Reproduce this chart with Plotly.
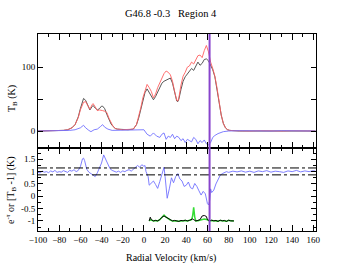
import plotly.graph_objects as go
from plotly.subplots import make_subplots

# ---------------- data ----------------
# Top panel: brightness temperature (K)
v_top = [-100, -95, -90, -85, -80, -76, -72, -68, -65, -62, -60, -58, -57, -55, -53, -51, -49, -48,
         -46, -44, -42, -40, -39, -37, -35, -33, -31, -29, -27, -25, -20, -15, -10, -7, -5, -3,
         -1, 1, 3, 5, 7, 9, 11, 13, 15, 17, 19, 21, 23, 25, 27, 29, 31, 32, 33, 35, 37, 39,
         41, 43, 45, 47, 49, 51, 53, 55, 57, 59, 61, 63, 65, 67, 69, 71, 73, 75, 77, 79, 81,
         85, 90, 100, 110, 120, 130, 140, 150, 162]
tb_black = [0, 0, 0, 0.5, 0.5, 1, 2, 5, 10, 22, 35, 47, 51, 48, 40, 33, 38, 40,
            36, 33, 35, 39, 39, 35, 26, 18, 11, 7, 4, 3, 2, 2, 3, 10, 20, 35,
            50, 60, 66, 60, 55, 49, 54, 62, 70, 75, 78, 80, 82, 83, 75, 60, 47, 46, 50, 65, 78, 85,
            90, 95, 98, 95, 102, 108, 103, 106, 112, 113, 110, 103, 96, 85, 68, 45, 25, 12, 5, 2, 1,
            0.5, 0, 0, 0, 0.5, 0, 0, 0, 0]
tb_red = [0, 0, 0.5, 0.5, 1, 1, 2, 5, 10, 21, 33, 43, 45, 46, 40, 34, 41, 43,
          38, 32, 33, 33, 32, 31, 29, 20, 12, 7, 4, 3, 2, 2, 3, 10, 21, 36,
          52, 63, 73, 68, 62, 52, 58, 68, 76, 82, 90, 94, 92, 88, 78, 62, 48, 47, 52, 72, 86, 92,
          100, 102, 108, 105, 112, 118, 119, 115, 126, 134, 124, 108, 98, 86, 68, 45, 25, 12, 5, 2, 1,
          0.5, 0, 0, 0.5, 0, 0, 0.5, 0, 0]

v_diff = [-100, -90, -80, -70, -65, -60, -57, -55, -52, -50, -47, -44, -41, -39, -37, -34, -30,
          -20, -10, -5, 0, 3, 6, 9, 12, 15, 17, 19, 21, 23, 25, 27, 29, 31, 33, 35, 37, 39,
          41, 43, 45, 47, 49, 51, 53, 55, 57, 59, 61, 63, 65, 67, 70, 75, 80, 90, 100, 110,
          120, 130, 140, 150, 162]
tb_diff = [0, 0.5, 0, 1, 2, 5, 9, 5, 1, -1, 2, 3, 7, 10, 6, 3, 1,
           1, 2, 1, 2, -5, -8, -3, -8, -10, -5, -3, -13, -8, -10, -5, -12, -8, -10, -15, -12, -18,
           -13, -15, -17, -10, -13, -20, -15, -18, -14, -20, -22, -18, -10, -7, -4, -1, 0, 0.5, 0, 0.5,
           0, 0.5, 0, 0.5, 0]

# Bottom panel: e^-tau
v_tau = [-100, -98, -96, -94, -92, -90, -88, -86, -84, -82, -80, -78, -76, -74, -72, -70, -68,
         -66, -64, -62, -60, -58, -57, -56, -54, -52, -50, -48, -46, -44, -42, -40, -38, -36,
         -34, -32, -30, -28, -26, -24, -22, -20, -18, -16, -14, -12, -10, -8, -6, -4, -2, 0, 1,
         2, 4, 5, 7, 9, 11, 13, 15, 17, 19, 20, 22, 24, 26, 28, 30, 32, 34, 36, 38, 40, 42,
         44, 46, 48, 50, 52, 54, 56, 58, 60, 61, 62, 63, 64, 66, 68, 70, 72, 74, 76, 78, 80,
         84, 88, 92, 96, 100, 104, 108, 112, 116, 120, 124, 128, 132, 136, 140, 144, 148, 152,
         156, 160, 162]
etau = [0.97, 0.95, 1.02, 0.98, 1.0, 0.96, 1.03, 0.99, 1.05, 0.97, 1.0, 0.98, 1.04, 1.0, 0.97, 1.05, 1.02,
        1.08, 1.0, 1.05, 1.2, 1.52, 1.55, 1.45, 1.1, 0.98, 0.92, 0.88, 0.8, 0.95, 1.15, 1.35, 1.68, 1.5,
        1.25, 1.12, 1.05, 1.0, 0.98, 1.02, 0.97, 1.03, 1.0, 1.05, 1.08, 1.02, 1.1, 1.15, 1.25, 1.18, 1.28, 1.22, 1.25,
        1.0, 0.8, 0.45, 0.55, 0.62, 0.48, 0.32, 0.6, 0.95, 1.18, 0.8, -0.08, 0.3, 0.75, 0.55, 0.8, 0.92, 0.7, 0.62, 0.4, 0.45, 0.58,
        0.35, 0.3, 0.52, 0.4, 0.22, 0.05, 0.2, 0.1, -0.3, -0.35, -0.2, 0.3, 0.15, 0.25, 0.5, 0.68, 0.85, 0.92, 0.95, 1.0, 0.97,
        1.02, 0.99, 1.03, 0.98, 1.02, 0.97, 1.03, 1.0, 1.04, 0.98, 1.02, 1.0, 0.97, 1.03, 1.0, 1.05, 0.99, 1.03,
        1.0, 1.04, 1.02]

v_low = [5, 6, 7, 9, 11, 13, 15, 17, 19, 21, 23, 25, 27, 29, 31, 33, 35, 37, 39, 41, 43, 45, 46,
         47, 48, 49, 51, 53, 55, 57, 59, 60, 62, 64, 66, 68, 70, 72, 74, 76, 78, 80, 82, 84, 85]
low_black = [-1.0, -0.85, -0.95, -1.0, -0.98, -1.0, -0.95, -0.85, -0.8, -0.85, -0.92, -0.97, -1.0, -0.98,
             -1.0, -1.02, -0.98, -1.0, -0.97, -1.0, -0.98, -0.95, -0.92, -0.95, -0.97, -1.0, -0.98, -0.95,
             -0.8, -0.78, -0.82, -0.95, -1.0, -0.97, -1.0, -0.98, -1.02, -0.97, -1.0, -0.98, -1.02, -0.97,
             -1.0, -0.98, -1.0]
low_green = [-1.0, -0.95, -0.97, -1.0, -0.98, -1.0, -0.95, -0.85, -0.76, -0.85, -0.93, -0.97, -1.0, -0.99,
             -1.0, -1.01, -0.99, -1.0, -0.98, -1.0, -0.98, -0.95, -0.8, -0.45, -0.85, -1.0, -0.99, -0.97,
             -0.93, -0.92, -0.94, -0.97, -1.0, -0.98, -1.0, -0.99, -1.01, -0.98, -1.0, -0.99, -1.01, -0.98,
             -1.0, -0.99, -1.0]

v_line = 62
tau_band = [1.15, 0.87]

# ---------------- figure ----------------
SERIF = "Liberation Serif"
fig = make_subplots(rows=2, cols=1, shared_xaxes=True, vertical_spacing=0,
                    row_heights=[0.58, 0.42])

fig.add_trace(go.Scatter(x=v_top, y=tb_black, mode="lines",
                         line=dict(color="#444444", width=0.9)), row=1, col=1)
fig.add_trace(go.Scatter(x=v_top, y=tb_red, mode="lines",
                         line=dict(color="#ff6060", width=0.9)), row=1, col=1)
fig.add_trace(go.Scatter(x=v_diff, y=tb_diff, mode="lines",
                         line=dict(color="#7070ff", width=0.9)), row=1, col=1)

fig.add_trace(go.Scatter(x=v_tau, y=etau, mode="lines",
                         line=dict(color="#7070ff", width=0.9)), row=2, col=1)
fig.add_trace(go.Scatter(x=v_low, y=low_green, mode="lines",
                         line=dict(color="#33dd33", width=1.5)), row=2, col=1)
fig.add_trace(go.Scatter(x=v_low, y=low_black, mode="lines",
                         line=dict(color="#000000", width=1)), row=2, col=1)

for yv in tau_band:
    fig.add_shape(type="line", xref="x2 domain", yref="y2", x0=0, x1=1, y0=yv, y1=yv,
                  line=dict(color="black", width=1, dash="dashdot"))

fig.add_shape(type="line", xref="x", yref="paper", x0=v_line, x1=v_line, y0=0, y1=1,
              line=dict(color="#8844cc", width=2))

axis_common = dict(showline=True, linecolor="black", linewidth=1, mirror="allticks",
                   ticks="inside", tickcolor="black", showgrid=False, zeroline=False,
                   tickfont=dict(family=SERIF, size=9, color="black"))

fig.update_xaxes(range=[-100, 162.5], dtick=20, ticklen=6,
                 minor=dict(dtick=10, ticklen=3, ticks="inside", tickcolor="black"),
                 **axis_common)
fig.update_xaxes(showticklabels=False, row=1, col=1)
fig.update_xaxes(showticklabels=True, tickvals=list(range(-100, 161, 20)), row=2, col=1)

fig.update_yaxes(range=[-27, 152], tickvals=[0, 50, 100], ticktext=["0", "", "100"],
                 ticklen=5, row=1, col=1, **axis_common)
fig.update_yaxes(range=[-1.41, 1.95], tickvals=[-1, -0.5, 0, 0.5, 1, 1.5],
                 ticktext=["-1", "-0.5", "0", "0.5", "1", "1.5"], ticklen=5,
                 minor=dict(dtick=0.25, ticklen=3, ticks="inside", tickcolor="black"),
                 row=2, col=1, **axis_common)

fig.update_layout(
    width=337, height=268,
    margin=dict(l=38, r=21, t=34, b=37),
    paper_bgcolor="white", plot_bgcolor="white",
    showlegend=False,
    font=dict(family=SERIF, color="black"),
    annotations=[
        dict(text="G46.8 -0.3\u00a0\u00a0\u00a0Region 4", xref="paper", yref="paper",
             x=0.48, y=1 + 21 / 197, xanchor="center", yanchor="middle", showarrow=False,
             font=dict(family=SERIF, size=10.5, color="black")),
        dict(text="Radial Velocity (km/s)", xref="paper", yref="paper",
             x=0.48, y=-27 / 197, xanchor="center", yanchor="middle", showarrow=False,
             font=dict(family=SERIF, size=10, color="black")),
        dict(text="T<sub>B</sub> (K)", xref="paper", yref="paper", textangle=-90,
             x=-26 / 278, y=1 - 65 / 197, xanchor="center", yanchor="middle", showarrow=False,
             font=dict(family=SERIF, size=10, color="black")),
        dict(text="e<sup>-τ</sup> or [T<sub>B</sub> -1] (K)", xref="paper", yref="paper",
             textangle=-90, x=-27 / 278, y=41 / 197, xanchor="center", yanchor="middle",
             showarrow=False, font=dict(family=SERIF, size=10, color="black")),
    ],
)

fig.write_html("out.html", config={"displayModeBar": False},
               post_script="document.body.style.margin='0';")
